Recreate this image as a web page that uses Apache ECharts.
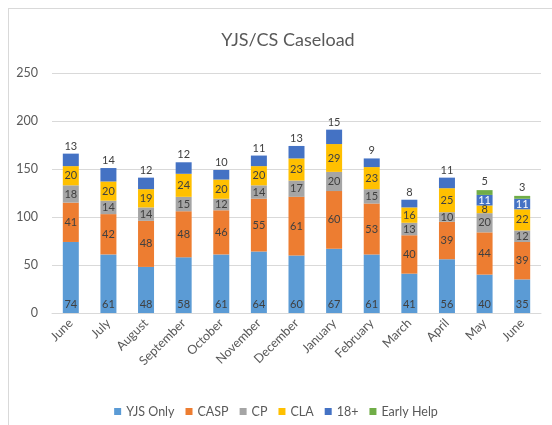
<!DOCTYPE html>
<html>
<head>
<meta charset="utf-8"/>
<title>YJS/CS Caseload</title>
<script src="https://cdn.jsdelivr.net/npm/echarts@6/dist/echarts.min.js"></script>
<style>
html,body{margin:0;padding:0;background:#fff;overflow:hidden;}
#main{width:552px;height:425px;}
#frame{position:absolute;left:8px;top:8px;width:600px;height:500px;border-top:1px solid #D9D9D9;border-left:1px solid #D9D9D9;pointer-events:none;}
</style>
</head>
<body>
<div id="main"></div>
<div id="frame"></div>
<script>
// data
var months = ['June','July','August','September','October','November','December','January','February','March','April','May','June'];
var yjsOnly   = [74, 61, 48, 58, 61, 64, 60, 67, 61, 41, 56, 40, 35];
var casp      = [41, 42, 48, 48, 46, 55, 61, 60, 53, 40, 39, 44, 39];
var cp        = [18, 14, 14, 15, 12, 14, 17, 20, 15, 13, 10, 20, 12];
var cla       = [20, 20, 19, 24, 20, 20, 23, 29, 23, 16, 25,  8, 22];
var eighteen  = [13, 14, 12, 12, 10, 11, 13, 15,  9,  8, 11, 11, 11];
var earlyHelp = [null, null, null, null, null, null, null, null, null, null, null, 5, 3];

var font = 'Lato, "Open Sans", sans-serif';
var labelGrey = '#404040';

// 18+ label goes above the bar unless an Early Help segment sits on top
var eighteenData = eighteen.map(function(v, i){
    if (earlyHelp[i] == null) {
        return {value: v, label: {position: 'top', color: labelGrey, distance: 2}};
    }
    return {value: v, label: {position: 'inside', color: '#fff'}};
});

function seg(name, data, color, pos, labelColor){
    return {
        name: name,
        type: 'bar',
        stack: 'total',
        barWidth: 16,
        data: data,
        itemStyle: {color: color},
        label: {show: true, position: pos, color: labelColor || labelGrey, fontSize: 11, fontFamily: font, distance: 3}
    };
}

var myChart = echarts.init(document.getElementById('main'));
var option = {
    animation: false,
    textStyle: {fontFamily: font},
    title: {
        text: 'YJS/CS Caseload',
        left: 283,
        textAlign: 'center',
        top: 26,
        textStyle: {fontSize: 18, fontWeight: 'normal', color: '#595959', fontFamily: font}
    },
    legend: {
        data: ['YJS Only','CASP','CP','CLA','18+','Early Help'],
        left: 'center',
        top: 400,
        icon: 'rect',
        itemWidth: 7,
        itemHeight: 7,
        itemGap: 11,
        textStyle: {fontSize: 12.5, color: '#595959', fontFamily: font}
    },
    grid: {left: 52, right: 11, top: 73, bottom: 112},
    xAxis: {
        type: 'category',
        data: months,
        axisLine: {lineStyle: {color: '#D9D9D9'}},
        axisTick: {show: false},
        axisLabel: {rotate: 45, color: '#595959', fontSize: 12.5, fontFamily: font, interval: 0, margin: 8}
    },
    yAxis: {
        type: 'value',
        min: 0,
        max: 250,
        interval: 50,
        axisLine: {show: false},
        axisTick: {show: false},
        splitLine: {lineStyle: {color: '#D9D9D9'}},
        axisLabel: {color: '#595959', fontSize: 12.5, fontFamily: font, margin: 14}
    },
    series: [
        seg('YJS Only', yjsOnly, '#5B9BD5', 'insideBottom'),
        seg('CASP', casp, '#ED7D31', 'inside'),
        seg('CP', cp, '#A5A5A5', 'inside'),
        seg('CLA', cla, '#FFC000', 'inside'),
        seg('18+', eighteenData, '#4472C4', 'inside'),
        seg('Early Help', earlyHelp, '#70AD47', 'top')
    ]
};
myChart.setOption(option);
</script>
</body>
</html>
